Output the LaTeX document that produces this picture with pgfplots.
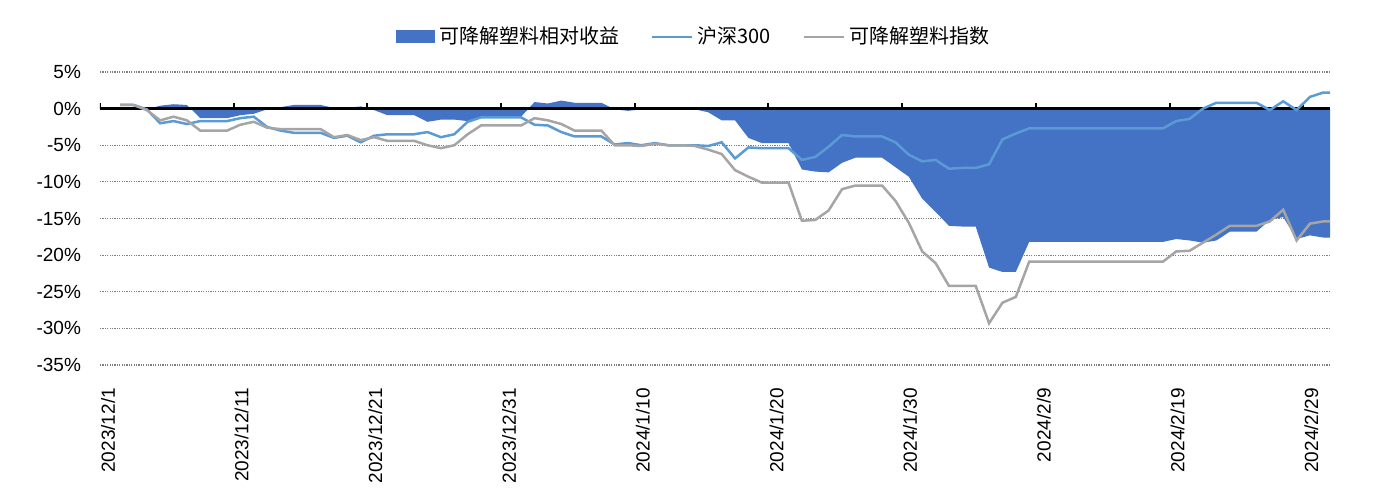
\documentclass[border=0pt]{standalone}
\usepackage{fontspec}
\setmainfont{Liberation Sans}
\newfontfamily\cjk{Noto Sans CJK SC}
\usepackage{pgfplots}
\pgfplotsset{compat=1.18}
\usepackage{pgfplotstable}
\definecolor{areablue}{HTML}{4472C4}
\definecolor{hsblue}{HTML}{5B9BD5}
\definecolor{idxgray}{HTML}{A5A5A5}
\pgfplotsset{
  lineleg/.style={legend image code/.code={\draw[##1] (0pt,0pt) -- (20pt,0pt);}},
  arealeg/.style={legend image code/.code={\fill[areablue] (0pt,-3.25pt) rectangle (19.5pt,3.25pt);}},
}

\pgfplotstableread{
x rel hs idx
1.5 0.0 0.5 0.5
2.5 0.0 0.5 0.5
3.5 -0.1 -0.1 -0.2
4.5 0.4 -2.0 -1.6
5.5 0.6 -1.7 -1.1
6.5 0.5 -2.1 -1.6
7.5 -1.3 -1.7 -3.0
8.5 -1.3 -1.7 -3.0
9.5 -1.3 -1.7 -3.0
10.5 -0.9 -1.3 -2.2
11.5 -0.7 -1.1 -1.8
12.5 -0.1 -2.5 -2.6
13.5 0.2 -3.0 -2.8
14.5 0.5 -3.3 -2.8
15.5 0.5 -3.3 -2.8
16.5 0.5 -3.3 -2.8
17.5 0.1 -4.0 -3.9
18.5 0.1 -3.7 -3.6
19.5 0.3 -4.6 -4.3
20.5 -0.2 -3.7 -3.9
21.5 -0.9 -3.5 -4.4
22.5 -0.9 -3.5 -4.4
23.5 -0.9 -3.5 -4.4
24.5 -1.8 -3.2 -5.0
25.5 -1.5 -3.9 -5.4
26.5 -1.5 -3.5 -5.0
27.5 -1.7 -1.8 -3.5
28.5 -1.1 -1.2 -2.3
29.5 -1.1 -1.2 -2.3
30.5 -1.1 -1.2 -2.3
31.5 -1.1 -1.2 -2.3
32.5 0.9 -2.2 -1.3
33.5 0.7 -2.3 -1.6
34.5 1.1 -3.2 -2.1
35.5 0.8 -3.8 -3.0
36.5 0.8 -3.8 -3.0
37.5 0.8 -3.8 -3.0
38.5 -0.1 -4.9 -5.0
39.5 -0.3 -4.7 -5.0
40.5 -0.1 -5.0 -5.1
41.5 -0.1 -4.7 -4.8
42.5 0.0 -5.0 -5.0
43.5 0.0 -5.0 -5.0
44.5 -0.1 -5.0 -5.1
45.5 -0.5 -5.1 -5.6
46.5 -1.6 -4.6 -6.2
47.5 -1.6 -6.8 -8.4
48.5 -4.0 -5.3 -9.3
49.5 -4.7 -5.4 -10.1
50.5 -4.7 -5.4 -10.1
51.5 -4.7 -5.4 -10.1
52.5 -8.3 -7.0 -15.3
53.5 -8.6 -6.6 -15.2
54.5 -8.7 -5.2 -13.9
55.5 -7.4 -3.6 -11.0
56.5 -6.7 -3.8 -10.5
57.5 -6.7 -3.8 -10.5
58.5 -6.7 -3.8 -10.5
59.5 -8.0 -4.6 -12.6
60.5 -9.3 -6.3 -15.6
61.5 -12.3 -7.2 -19.5
62.5 -14.1 -7.0 -21.1
63.5 -16.0 -8.2 -24.2
64.5 -16.1 -8.1 -24.2
65.5 -16.1 -8.1 -24.2
66.5 -21.7 -7.6 -29.3
67.5 -22.3 -4.2 -26.5
68.5 -22.3 -3.4 -25.7
69.5 -18.2 -2.7 -20.9
70.5 -18.2 -2.7 -20.9
71.5 -18.2 -2.7 -20.9
72.5 -18.2 -2.7 -20.9
73.5 -18.2 -2.7 -20.9
74.5 -18.2 -2.7 -20.9
75.5 -18.2 -2.7 -20.9
76.5 -18.2 -2.7 -20.9
77.5 -18.2 -2.7 -20.9
78.5 -18.2 -2.7 -20.9
79.5 -18.2 -2.7 -20.9
80.5 -17.8 -1.7 -19.5
81.5 -18.0 -1.4 -19.4
82.5 -18.3 0.0 -18.3
83.5 -18.0 0.8 -17.2
84.5 -16.8 0.8 -16.0
85.5 -16.8 0.8 -16.0
86.5 -16.8 0.8 -16.0
87.5 -15.2 -0.2 -15.4
88.5 -14.8 1.0 -13.8
89.5 -17.8 -0.2 -18.0
90.5 -17.3 1.6 -15.7
91.5 -17.6 2.2 -15.4
92 -17.6 2.2 -15.4
}\data

\begin{document}
\begin{tikzpicture}
\begin{axis}[
  at={(0pt,0pt)}, anchor=south west,
  scale only axis, width=615pt, height=146.5pt,
  xmin=0, xmax=92, ymin=-35, ymax=5,
  xtick={0,10,...,90},
  xticklabels={2023/12/1,2023/12/11,2023/12/21,2023/12/31,2024/1/10,2024/1/20,2024/1/30,2024/2/9,2024/2/19,2024/2/29},
  ytick={-35,-30,...,5},
  yticklabels={-35\%,-30\%,-25\%,-20\%,-15\%,-10\%,-5\%,0\%,5\%},
  ymajorgrids,
  grid style={black!50, line width=0.6pt, dash pattern=on 0.6pt off 0.6pt},
  axis line style={draw=none},
  major tick length=0pt,
  tick label style={font=\fontsize{9.5}{11}\selectfont},
  xticklabel style={yshift=-8pt, xshift=4pt, rotate=90, anchor=east},
  yticklabel style={xshift=-6pt},
  legend columns=3,
  legend style={draw=none, fill=none, at={(0.4835,1.1195)}, anchor=center,
    font=\cjk\fontsize{10}{12}\selectfont,
    /tikz/every even column/.append style={column sep=14pt}},
]
\addplot[fill=areablue, draw=none, arealeg] table[x=x,y=rel]{\data} \closedcycle;
\addlegendentry{可降解塑料相对收益}
\draw[black, line width=1.25pt] (axis cs:0,0) -- (axis cs:92,0);
\draw[black, line width=1pt] (axis cs:0,0) -- ++(0pt,3pt);
\draw[black, line width=1pt] (axis cs:10,0) -- ++(0pt,3pt);
\draw[black, line width=1pt] (axis cs:20,0) -- ++(0pt,3pt);
\draw[black, line width=1pt] (axis cs:30,0) -- ++(0pt,3pt);
\draw[black, line width=1pt] (axis cs:40,0) -- ++(0pt,3pt);
\draw[black, line width=1pt] (axis cs:50,0) -- ++(0pt,3pt);
\draw[black, line width=1pt] (axis cs:60,0) -- ++(0pt,3pt);
\draw[black, line width=1pt] (axis cs:70,0) -- ++(0pt,3pt);
\draw[black, line width=1pt] (axis cs:80,0) -- ++(0pt,3pt);
\draw[black, line width=1pt] (axis cs:90,0) -- ++(0pt,3pt);
\addplot[hsblue, line width=1.25pt, lineleg] table[x=x,y=hs]{\data};
\addlegendentry{沪深300}
\addplot[idxgray, line width=1.25pt, lineleg] table[x=x,y=idx]{\data};
\addlegendentry{可降解塑料指数}
\end{axis}
\pgfresetboundingbox
\path (-50pt,-63.5pt) rectangle (637.5pt,182.5pt);
\end{tikzpicture}
\end{document}
